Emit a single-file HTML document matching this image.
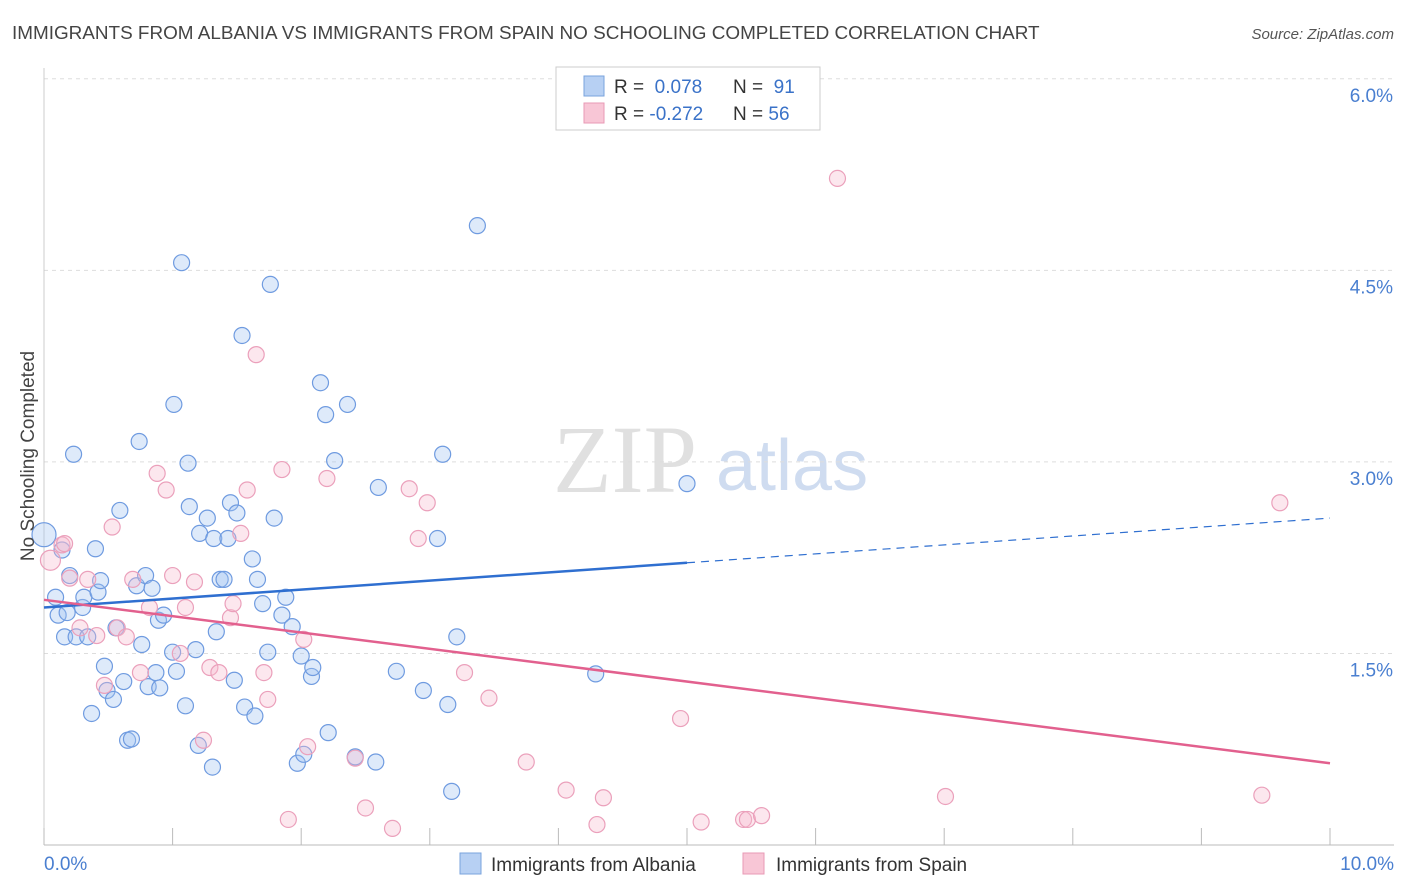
<!DOCTYPE html>
<html><head><meta charset="utf-8"><style>
body{margin:0;background:#fff;font-family:"Liberation Sans",sans-serif;}
svg{display:block}
</style></head><body>
<svg id="chart" width="1406" height="892" xmlns="http://www.w3.org/2000/svg" font-family="Liberation Sans, sans-serif">
<text x="12" y="39" font-size="18.9" fill="#444">IMMIGRANTS FROM ALBANIA VS IMMIGRANTS FROM SPAIN NO SCHOOLING COMPLETED CORRELATION CHART</text>
<text x="1394" y="39" font-size="15" fill="#555" text-anchor="end" font-style="italic">Source: ZipAtlas.com</text>
<g>
<text x="553" y="492" font-size="96" fill="#e0e0e0" font-family="Liberation Serif, serif">ZIP</text>
<text x="716" y="490" font-size="72" fill="#cfdcf0">atlas</text>
</g>
<g id="grid"></g>
<g id="axes"></g>
<g id="marks"></g>
<text transform="translate(34,456) rotate(-90)" font-size="19" fill="#444" text-anchor="middle">No Schooling Completed</text>
<g>
<rect x="556" y="67" width="264" height="63" fill="#fff" stroke="#ccc"/>
<rect x="584" y="76" width="20" height="20" fill="#b7d0f3" stroke="#7aa3dd"/>
<rect x="584" y="103" width="20" height="20" fill="#f8c6d6" stroke="#e89ab5"/>
<text x="614" y="93" font-size="19" fill="#333">R = <tspan fill="#3a72c8">&#160;0.078</tspan><tspan x="733">N = </tspan><tspan fill="#3a72c8">&#160;91</tspan></text>
<text x="614" y="120" font-size="19" fill="#333">R = <tspan fill="#3a72c8">-0.272</tspan><tspan x="733">N = </tspan><tspan fill="#3a72c8">56</tspan></text>
</g>
<g>
<rect x="460" y="853" width="21" height="21" fill="#b7d0f3" stroke="#7aa3dd"/>
<text x="491" y="871" font-size="19" fill="#333">Immigrants from Albania</text>
<rect x="743" y="853" width="21" height="21" fill="#f8c6d6" stroke="#e89ab5"/>
<text x="776" y="871" font-size="19" fill="#333">Immigrants from Spain</text>
</g>
</svg>
<script>
const albaniaX=[0.00,0.09,0.11,0.14,0.18,0.16,0.20,0.23,0.25,0.30,0.31,0.34,0.37,0.40,0.42,0.44,0.47,0.49,0.54,0.56,0.59,0.62,0.65,0.68,0.72,0.74,0.76,0.79,0.81,0.84,0.87,0.89,0.90,0.93,1.00,1.01,1.03,1.07,1.10,1.12,1.13,1.18,1.20,1.21,1.27,1.31,1.32,1.34,1.37,1.40,1.43,1.45,1.48,1.50,1.54,1.56,1.62,1.64,1.66,1.70,1.74,1.76,1.79,1.85,1.88,1.93,1.97,2.00,2.02,2.08,2.09,2.15,2.19,2.21,2.26,2.36,2.42,2.58,2.60,2.74,2.95,3.06,3.10,3.14,3.17,3.21,3.37,4.29,5.00];
const albaniaY=[2.43,1.94,1.80,2.31,1.82,1.63,2.11,3.06,1.63,1.86,1.94,1.63,1.03,2.32,1.98,2.07,1.40,1.21,1.14,1.70,2.62,1.28,0.82,0.83,2.03,3.16,1.57,2.11,1.24,2.01,1.35,1.76,1.23,1.80,1.51,3.45,1.36,4.56,1.09,2.99,2.65,1.53,0.78,2.44,2.56,0.61,2.40,1.67,2.08,2.08,2.40,2.68,1.29,2.60,3.99,1.08,2.24,1.01,2.08,1.89,1.51,4.39,2.56,1.80,1.94,1.71,0.64,1.48,0.71,1.32,1.39,3.62,3.37,0.88,3.01,3.45,0.69,0.65,2.80,1.36,1.21,2.40,3.06,1.10,0.42,1.63,4.85,1.34,2.83];
const spainX=[0.05,0.14,0.16,0.20,0.28,0.34,0.41,0.47,0.53,0.57,0.64,0.69,0.75,0.82,0.88,0.95,1.00,1.06,1.10,1.17,1.24,1.29,1.36,1.45,1.47,1.53,1.58,1.65,1.71,1.74,1.85,1.90,2.02,2.05,2.20,2.42,2.50,2.71,2.84,2.91,2.98,3.27,3.46,3.75,4.06,4.30,4.35,4.95,5.11,5.44,5.47,5.58,6.17,7.01,9.47,9.61];
const spainY=[2.23,2.35,2.36,2.09,1.70,2.08,1.64,1.25,2.49,1.70,1.63,2.08,1.35,1.86,2.91,2.78,2.11,1.50,1.86,2.06,0.82,1.39,1.35,1.78,1.89,2.44,2.78,3.84,1.35,1.14,2.94,0.20,1.61,0.77,2.87,0.68,0.29,0.13,2.79,2.40,2.68,1.35,1.15,0.65,0.43,0.16,0.37,0.99,0.18,0.20,0.20,0.23,5.22,0.38,0.39,2.68];
const albaniaTrend=[1.86,2.56];
const spainTrend=[1.92,0.64];
const yTicks=[1.5,3.0,4.5,6.0];
const yTickLabels=["1.5%","3.0%","4.5%","6.0%"];
const xTicks=[0,1,2,3,4,5,6,7,8,9,10];

const NS="http://www.w3.org/2000/svg";
const sx=v=>44+v*128.6;
const sy=v=>845-v*127.7;
function mk(tag,attrs,parent){const e=document.createElementNS(NS,tag);for(const k in attrs)e.setAttribute(k,attrs[k]);parent.appendChild(e);return e;}
const grid=document.getElementById('grid'),axes=document.getElementById('axes'),marks=document.getElementById('marks');
yTicks.forEach((t,i)=>{
 const l=mk('line',{x1:44,x2:1394,y1:sy(t),y2:sy(t),stroke:'#ddd','stroke-dasharray':'4,4'},grid);
 
 
 const tx=mk('text',{x:1393,y:sy(t)+23,'font-size':19,fill:'#4a7fd0','text-anchor':'end'},axes);
 tx.textContent=yTickLabels[i];
 
 
});
const ax=mk('line',{x1:44,x2:1394,y1:845,y2:845,stroke:'#bbb'},axes);


const ay=mk('line',{x1:44,x2:44,y1:68,y2:845,stroke:'#ccc'},axes);


xTicks.forEach(t=>{
 const l=mk('line',{x1:sx(t),x2:sx(t),y1:828,y2:845,stroke:'#bbb'},axes);
 
 
});
const xl0=mk('text',{x:44,y:870,'font-size':19,fill:'#4a7fd0'},axes);xl0.textContent='0.0%';


const xl1=mk('text',{x:1394,y:870,'font-size':19,fill:'#4a7fd0','text-anchor':'end'},axes);xl1.textContent='10.0%';



albaniaX.forEach((x,i)=>{
 const c=mk('circle',{cx:sx(x),cy:sy(albaniaY[i]),r:i===0?12:8,fill:'rgba(160,195,240,0.35)',stroke:'#6f9be0','stroke-width':1.2},marks);
 
 
});
spainX.forEach((x,i)=>{
 const c=mk('circle',{cx:sx(x),cy:sy(spainY[i]),r:i===0?10:8,fill:'rgba(245,185,205,0.35)',stroke:'#eba0bb','stroke-width':1.2},marks);
 
 
});
const bMid=albaniaTrend[0]+(albaniaTrend[1]-albaniaTrend[0])*0.5;
const t1=mk('line',{x1:sx(0),y1:sy(albaniaTrend[0]),x2:sx(5),y2:sy(bMid),stroke:'#2f6fd0','stroke-width':2.5},marks);


const t2=mk('line',{x1:sx(5),y1:sy(bMid),x2:sx(10),y2:sy(albaniaTrend[1]),stroke:'#2f6fd0','stroke-width':1.2,'stroke-dasharray':'8,6'},marks);


const t3=mk('line',{x1:sx(0),y1:sy(spainTrend[0]),x2:sx(10),y2:sy(spainTrend[1]),stroke:'#e2608e','stroke-width':2.5},marks);


</script>
</body></html>
